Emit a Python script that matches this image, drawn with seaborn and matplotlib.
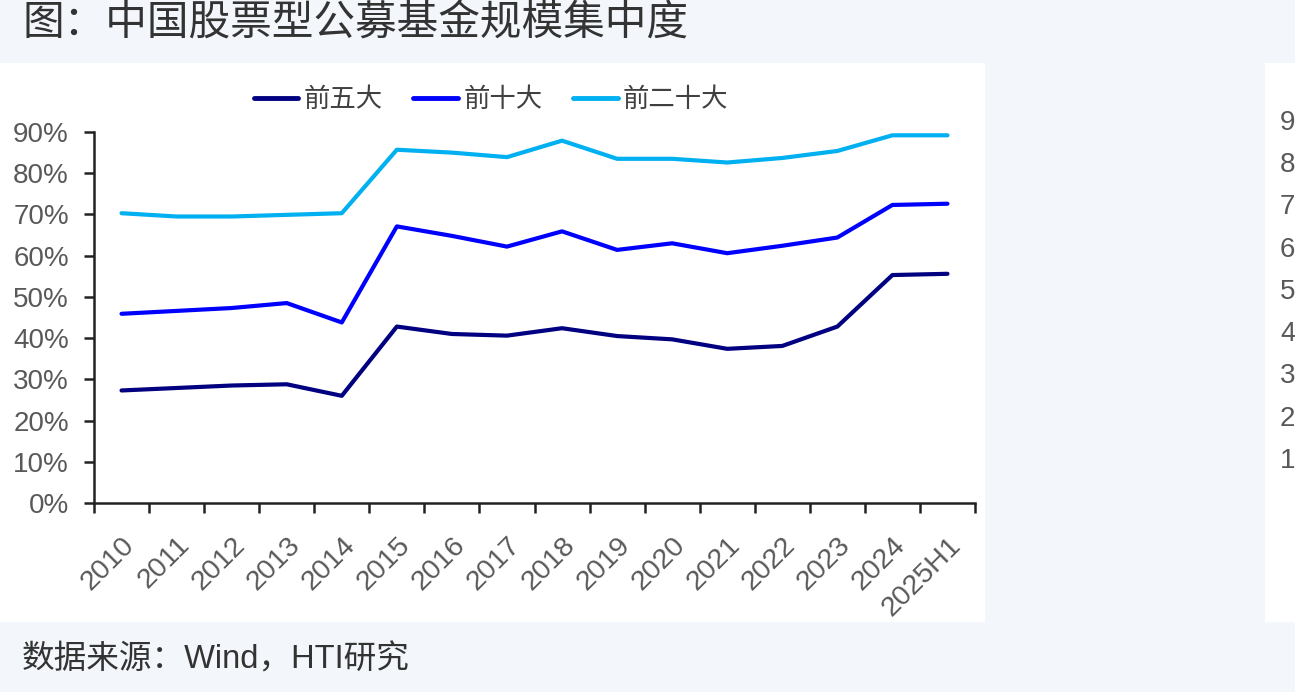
import numpy as np
import pandas as pd
import matplotlib.pyplot as plt
import seaborn as sns
from matplotlib.patches import Rectangle
from matplotlib.ticker import FixedLocator, PercentFormatter

# 数据
years = ["2010", "2011", "2012", "2013", "2014", "2015", "2016", "2017",
         "2018", "2019", "2020", "2021", "2022", "2023", "2024", "2025H1"]
top5 = [27.3, 27.9, 28.5, 28.8, 26.0, 42.8, 41.0, 40.6,
        42.4, 40.5, 39.7, 37.4, 38.1, 42.8, 55.3, 55.6]
top10 = [45.9, 46.6, 47.3, 48.5, 43.8, 67.1, 64.8, 62.2,
         65.9, 61.4, 63.0, 60.6, 62.4, 64.4, 72.3, 72.6]
top20 = [70.3, 69.5, 69.5, 69.9, 70.3, 85.7, 85.0, 83.9,
         87.9, 83.5, 83.5, 82.6, 83.7, 85.4, 89.2, 89.2]
series = ["前五大", "前十大", "前二十大"]
colors = ["#000080", "#0000FF", "#00B0F0"]
yticks = [0, 10, 20, 30, 40, 50, 60, 70, 80, 90]
# 右侧相邻图表，只露出第一个数字
right_ticks = [10, 20, 30, 40, 50, 60, 70, 80, 90]
right_labels = ["1", "2", "3", "4", "5", "6", "7", "8", "9"]

title = "图：中国股票型公募基金规模集中度"
source = "数据来源：Wind，HTI研究"

df = pd.DataFrame({"年份": years * 3,
                   "占比": top5 + top10 + top20,
                   "类别": np.repeat(series, len(years))})

sns.set_style("ticks")
plt.rcParams["font.family"] = ["Liberation Sans", "Noto Sans CJK SC", "DejaVu Sans"]

W, H = 1295, 692
fig = plt.figure(figsize=(W / 100, H / 100), dpi=100)
fig.patch.set_facecolor("#f3f6fb")

# 白色面板
fig.add_artist(Rectangle((0, 1 - 622 / H), 985 / W, (622 - 63) / H,
                         transform=fig.transFigure, facecolor="white",
                         edgecolor="none", zorder=0))
fig.add_artist(Rectangle((1265 / W, 1 - 622 / H), 40 / W, (622 - 63) / H,
                         transform=fig.transFigure, facecolor="white",
                         edgecolor="none", zorder=0))

ax = fig.add_axes([94 / W, 1 - 503 / H, (975 - 94) / W, (503 - 132) / H])
ax.set_facecolor("none")

sns.lineplot(data=df, x="年份", y="占比", hue="类别", hue_order=series,
             palette=dict(zip(series, colors)), linewidth=3, ax=ax,
             sort=False)

ax.set_xlim(-0.5, len(years) - 0.5)
ax.set_ylim(0, 90)
ax.yaxis.set_major_locator(FixedLocator(yticks))
ax.yaxis.set_major_formatter(PercentFormatter(decimals=0))

# x轴：刻度线在分类边界，标签在中间
ax.xaxis.set_major_locator(FixedLocator(np.arange(len(years) + 1) - 0.5))
ax.xaxis.set_minor_locator(FixedLocator(np.arange(len(years))))
ax.set_xticklabels([], minor=False)
ax.set_xticklabels(years, minor=True, rotation=45, ha="right",
                   rotation_mode="anchor")
ax.tick_params(axis="x", which="minor", length=0, pad=21,
               labelsize=20.5, labelcolor="#595959")
ax.tick_params(axis="x", which="major", length=7, width=1.8, color="#222222")
ax.tick_params(axis="y", length=7, width=1.8, color="#222222", pad=11,
               labelsize=20, labelcolor="#595959")

for s in ["top", "right"]:
    ax.spines[s].set_visible(False)
for s in ["left", "bottom"]:
    ax.spines[s].set_linewidth(1.8)
    ax.spines[s].set_color("#222222")
ax.set_xlabel("")
ax.set_ylabel("")

leg = ax.legend(loc="center", bbox_to_anchor=(491 / W, 1 - 100 / H),
                bbox_transform=fig.transFigure, ncol=3, frameon=False,
                fontsize=19, handlelength=1.7, handletextpad=0.2,
                columnspacing=1.15)
for t in leg.get_texts():
    t.set_color("#404040")
for h in leg.get_lines():
    h.set_linewidth(3.5)

# 右侧被截断的面板
ax_r = fig.add_axes([1272 / W, 1 - 500 / H, 1 / W, (500 - 120) / H])
ax_r.set_ylim(0, 90)
ax_r.set_xticks([])
ax_r.yaxis.tick_right()
ax_r.yaxis.set_major_locator(FixedLocator(right_ticks))
ax_r.set_yticklabels(right_labels)
ax_r.tick_params(axis="y", length=0, pad=5, labelsize=20,
                 labelcolor="#595959")
for s in ax_r.spines.values():
    s.set_visible(False)
ax_r.set_facecolor("none")

fig.text(22 / W, 1 - 25 / H, title, fontsize=30, color="#333333",
         va="center", ha="left")
fig.text(22 / W, 1 - 660 / H, source, fontsize=23.5, color="#333333",
         va="center", ha="left")

fig.savefig("out.png", dpi=100, facecolor=fig.get_facecolor())
